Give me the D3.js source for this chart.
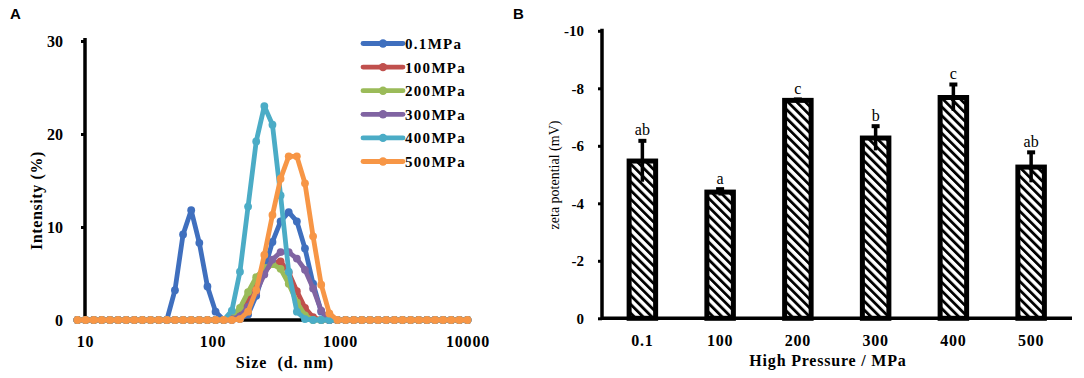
<!DOCTYPE html>
<html><head><meta charset="utf-8">
<script src="https://cdn.jsdelivr.net/npm/d3@7"></script>
<style>body{margin:0;background:#fff;} svg{display:block;}</style>
</head><body>
<svg id="c" width="1084" height="378"></svg>
<script>
// ---------- Panel A data ----------
const sizes = [8.721, 10.1, 11.7, 13.54, 15.69, 18.17, 21.04, 24.36, 28.21, 32.67, 37.84,
  43.82, 50.75, 58.77, 68.06, 78.82, 91.28, 105.7, 122.4, 141.8, 164.2, 190.1, 220.2, 255.0,
  295.3, 342.0, 396.1, 458.7, 531.2, 615.1, 712.4, 825.0,
  955.4, 1106, 1281, 1484, 1718, 1990, 2305, 2669, 3091, 3580, 4145, 4801, 5560, 6439, 7456, 8635, 10000];
const seriesNames = ["0.1MPa", "100MPa", "200MPa", "300MPa", "400MPa", "500MPa"];
const seriesColors = ["#3F6FBE", "#C0504D", "#9BBB59", "#8064A2", "#4BACC6", "#F79646"];
const int01  = [0,0,0,0,0,0,0,0,0,0,0, 0,3.2,9.2,11.8,8.3,3.6,0.9,0,0,0.1,0.6,2.6,5.4,8.4,10.6,11.6,10.6,7.7,3.9,0.9,0, 0,0,0,0,0,0,0,0,0,0,0,0,0,0,0,0,0];
const int100 = [0,0,0,0,0,0,0,0,0,0,0, 0,0,0,0,0,0,0,0,0.1,0.6,2.0,3.8,5.2,6.1,6.3,5.1,3.1,1.3,0.3,0,0, 0,0,0,0,0,0,0,0,0,0,0,0,0,0,0,0,0];
const int200 = [0,0,0,0,0,0,0,0,0,0,0, 0,0,0,0,0,0,0,0,0.3,1.3,3.0,4.6,5.6,6.0,5.5,3.9,1.9,0.5,0,0,0, 0,0,0,0,0,0,0,0,0,0,0,0,0,0,0,0,0];
const int300 = [0,0,0,0,0,0,0,0,0,0,0, 0,0,0,0,0,0,0,0,0.1,0.4,1.4,3.0,4.9,6.5,7.3,7.3,6.6,5.4,3.4,1.0,0, 0,0,0,0,0,0,0,0,0,0,0,0,0,0,0,0,0];
const int400 = [0,0,0,0,0,0,0,0,0,0,0, 0,0,0,0,0,0,0,0,1.0,5.2,12.2,19.2,23.0,21.0,13.4,5.2,0.9,0.1,0,0,0, 0,0,0,0,0,0,0,0,0,0,0,0,0,0,0,0,0];
const int500 = [0,0,0,0,0,0,0,0,0,0,0, 0,0,0,0,0,0,0,0,0,0.1,0.9,3.2,7.0,11.3,15.2,17.6,17.6,14.7,9.0,3.8,0.7, 0,0,0,0,0,0,0,0,0,0,0,0,0,0,0,0,0];
const intensities = [int01, int100, int200, int300, int400, int500];
const xTicksA = [10, 100, 1000, 10000];
const yTicksA = [0, 10, 20, 30];

// ---------- Panel B data ----------
const pressures = ["0.1", "100", "200", "300", "400", "500"];
const zeta = [-5.47, -4.39, -7.58, -6.27, -7.68, -5.26];
const zetaErr = [0.72, 0.12, 0.05, 0.43, 0.47, 0.53];
const sigLetters = ["ab", "a", "c", "b", "c", "ab"];
const yTicksB = [0, -2, -4, -6, -8, -10];

const svg = d3.select("#c");
const serif = "'Liberation Serif','Times New Roman',serif";
const sans = "'Liberation Sans',Arial,sans-serif";
const plain = d => String(d);

// panel letters
svg.append("text").attr("x", 10).attr("y", 19).text("A")
  .style("font-family", sans).style("font-weight", "bold").style("font-size", "15px");
svg.append("text").attr("x", 513).attr("y", 19).text("B")
  .style("font-family", sans).style("font-weight", "bold").style("font-size", "15px");

// ================= Panel A =================
const xA = d3.scaleLog().domain([10, 10000]).range([85, 467.5]);
const yA = d3.scaleLinear().domain([0, 30]).range([320, 41]);
const gA = svg.append("g");

const yAxisA = d3.axisLeft(yA).tickValues(yTicksA).tickSize(4).tickPadding(18).tickFormat(plain);
const gyA = gA.append("g").attr("transform", `translate(${xA(10)},0)`).call(yAxisA);
gyA.select(".domain").attr("d", `M0,${yA(30)-3}V${yA(0)}`).attr("stroke", "#000").attr("stroke-width", 3.5);
gyA.selectAll(".tick line").attr("stroke", "#000").attr("stroke-width", 3);
gyA.selectAll(".tick text").style("font-family", serif).style("font-weight", "bold")
  .style("font-size", "16px").attr("fill", "#000");

const xAxisA = d3.axisBottom(xA).tickValues(xTicksA).tickSize(0).tickPadding(16).tickFormat(plain);
const gxA = gA.append("g").attr("transform", `translate(0,${yA(0)})`).call(xAxisA);
gxA.select(".domain").attr("d", `M${xA(10)},0H${xA(10000)+3}`).attr("stroke", "#000").attr("stroke-width", 3.5);
gxA.selectAll(".tick text").style("font-family", serif).style("font-weight", "bold")
  .style("font-size", "16px").style("letter-spacing", "0.8px").attr("fill", "#000");

gA.append("text").attr("transform", `translate(42,${(yA(0)+yA(30))/2 + 20}) rotate(-90)`)
  .attr("text-anchor", "middle").text("Intensity (%)")
  .style("font-family", serif).style("font-weight", "bold").style("font-size", "16px").style("letter-spacing", "0.6px");
gA.append("text").attr("x", 285).attr("y", 368).attr("text-anchor", "middle").text("Size  (d. nm)")
  .style("font-family", serif).style("font-weight", "bold").style("font-size", "16px")
  .style("white-space", "pre").style("letter-spacing", "1px");

// lines
const line = d3.line().x((d, i) => xA(sizes[i])).y(d => yA(d));
intensities.forEach((vals, k) => {
  const g = gA.append("g");
  g.append("path").datum(vals).attr("d", line).attr("fill", "none")
    .attr("stroke", seriesColors[k]).attr("stroke-width", 4.8).attr("stroke-linejoin", "round");
  g.selectAll("circle").data(vals).join("circle")
    .attr("cx", (d, i) => xA(sizes[i])).attr("cy", d => yA(d)).attr("r", 3.9)
    .attr("fill", seriesColors[k]);
});

// legend
const leg = gA.append("g");
seriesNames.forEach((name, k) => {
  const y = 43.5 + k * 23.6;
  leg.append("line").attr("x1", 363).attr("x2", 403).attr("y1", y).attr("y2", y)
    .attr("stroke", seriesColors[k]).attr("stroke-width", 4.8).attr("stroke-linecap", "round");
  leg.append("circle").attr("cx", 383).attr("cy", y).attr("r", 4.2).attr("fill", seriesColors[k]);
  leg.append("text").attr("x", 405).attr("y", y + 5.5).text(name)
    .style("font-family", serif).style("font-weight", "bold").style("font-size", "15px")
    .style("letter-spacing", "1.3px");
});

// ================= Panel B =================
const xB = d3.scaleBand().domain(pressures).range([603.5, 1070]).paddingInner(0.6).paddingOuter(0.3);
const yB = d3.scaleLinear().domain([0, -10]).range([318.3, 30.8]);
const gB = svg.append("g");

const defs = svg.append("defs");
const pat = defs.append("pattern").attr("id", "hatch").attr("patternUnits", "userSpaceOnUse")
  .attr("width", 6.2).attr("height", 10).attr("patternTransform", "rotate(-45)");
pat.append("rect").attr("width", 6.2).attr("height", 10).attr("fill", "#fff");
pat.append("rect").attr("x", 0).attr("width", 2.8).attr("height", 10).attr("fill", "#000");

const yAxisB = d3.axisLeft(yB).tickValues(yTicksB).tickSize(4).tickPadding(14).tickFormat(plain);
const gyB = gB.append("g").attr("transform", "translate(602,0)").call(yAxisB);
gyB.select(".domain").attr("d", `M0,${yB(-10)-2}V${yB(0)}`).attr("stroke", "#000").attr("stroke-width", 3.5);
gyB.selectAll(".tick line").attr("stroke", "#000").attr("stroke-width", 3);
gyB.selectAll(".tick text").style("font-family", serif).style("font-weight", "bold")
  .style("font-size", "15px").attr("fill", "#000");

const bw = 26.5;
gB.selectAll("rect.bar").data(zeta).join("rect").attr("class", "bar")
  .attr("x", (d, i) => xB(pressures[i]) + xB.bandwidth() / 2 - bw / 2)
  .attr("width", bw)
  .attr("y", d => yB(d))
  .attr("height", d => yB(0) - yB(d))
  .attr("fill", "url(#hatch)").attr("stroke", "#000").attr("stroke-width", 5);

zeta.forEach((v, i) => {
  const cx = xB(pressures[i]) + xB.bandwidth() / 2;
  const top = yB(v - zetaErr[i]);
  const bot = yB(v + zetaErr[i]);
  gB.append("line").attr("x1", cx).attr("x2", cx).attr("y1", top).attr("y2", bot)
    .attr("stroke", "#000").attr("stroke-width", 3.5);
  gB.append("rect").attr("x", cx - 4).attr("y", top - 1.5).attr("width", 8).attr("height", 4).attr("fill", "#000");
  gB.append("text").attr("x", cx).attr("y", top - 5).attr("text-anchor", "middle").text(sigLetters[i])
    .style("font-family", serif).style("font-size", "16px");
});

const xAxisB = d3.axisBottom(xB).tickSize(0).tickPadding(16);
const gxB = gB.append("g").attr("transform", `translate(0,${yB(0)})`).call(xAxisB);
gxB.select(".domain").attr("d", "M602,0H1072").attr("stroke", "#000").attr("stroke-width", 3.5);
gxB.selectAll(".tick text").style("font-family", serif).style("font-weight", "bold")
  .style("font-size", "16px").style("letter-spacing", "0.8px").attr("fill", "#000");

gB.append("text").attr("x", 828).attr("y", 366).attr("text-anchor", "middle").text("High Pressure / MPa")
  .style("font-family", serif).style("font-weight", "bold").style("font-size", "16px").style("letter-spacing", "0.8px");
gB.append("text").attr("transform", `translate(559,175) rotate(-90)`).attr("text-anchor", "middle")
  .text("zeta potential (mV)")
  .style("font-family", serif).style("font-size", "14px");
</script>
</body></html>
